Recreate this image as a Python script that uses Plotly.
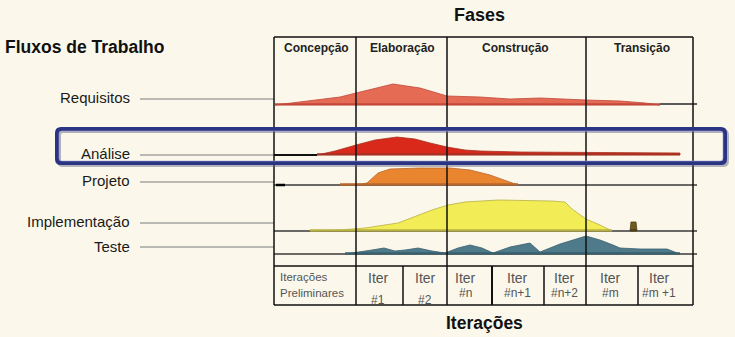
import plotly.graph_objects as go

# ---------------- data ----------------
title_top = "Fases"
title_left = "Fluxos de Trabalho"
title_bottom = "Iterações"
phases = ["Concepção", "Elaboração", "Construção", "Transição"]
workflows = ["Requisitos", "Análise", "Projeto", "Implementação", "Teste"]
prelim_label = ["Iterações", "Preliminares"]
iter_top = ["Iter", "Iter", "Iter", "Iter", "Iter", "Iter", "Iter"]
iter_bottom = ["#1", "#2", "#n", "#n+1", "#n+2", "#m", "#m +1"]

# effort profiles: time position (t) and effort height (h) for each workflow
req_t = [275, 300, 320, 340, 356, 375, 393, 420, 447, 480, 510, 540, 560, 586, 620, 645, 660]
req_h = [0, 3, 5, 8, 12, 17, 21, 17, 9, 8, 6, 7, 6, 5, 4, 2, 0]
ana_t = [317, 335, 356, 375, 397, 415, 430, 447, 465, 480, 520, 586, 640, 680]
ana_h = [0, 4, 10, 15, 18, 16, 12, 8, 5, 4, 3, 2.5, 2, 2]
proj_t = [340, 360, 367, 378, 390, 420, 450, 470, 490, 505, 518]
proj_h = [0, 0.8, 2, 12, 16, 17, 17, 15, 10, 5, 0]
impl_t = [310, 340, 365, 398, 432, 448, 465, 498, 552, 565, 572, 580, 586, 600, 612]
impl_h = [0, 1, 3, 8, 21, 26, 29, 31, 30, 29, 22, 16, 12, 6, 0]
test_t = [345, 360, 372, 384, 395, 405, 418, 432, 445, 458, 470, 482, 493, 510, 530, 540, 560, 586, 600, 613, 620, 640, 667, 680]
test_h = [0, 2, 4, 6, 3, 4, 6, 3, 1, 6, 9, 6, 1, 7, 11, 2, 10, 18, 14, 9, 6, 5, 5, 0]
blip_t = [630, 631, 636, 637]
blip_h = [0, 9, 9, 0]

# ---------------- layout constants ----------------
W, H = 735, 337
BG = "#FBF8EB"
FRAME_L, FRAME_R, FRAME_T = 274, 693, 37
PHASE_X = [274, 356, 447, 586, 693]
ITER_X = [274, 356, 403, 447, 492, 544, 586, 638, 693]
ITER_T, ITER_B = 266, 305
BASE = [105, 155, 185, 231, 254]
LABEL_Y = [97, 153, 180, 221, 246]
CONN_Y = [99, 155, 182, 223, 247]
FONT = "Liberation Sans, Arial, sans-serif"

fig = go.Figure()


def hump(t, h, base, fill, edge):
    xs = list(t) + list(reversed(t))
    ys = [base - v for v in h] + [base] * len(t)
    fig.add_trace(go.Scatter(x=xs, y=ys, mode="lines", fill="toself",
                             fillcolor=fill, line=dict(color=edge, width=0.8),
                             hoverinfo="skip", showlegend=False))
    fig.add_trace(go.Scatter(x=[t[0], t[-1]], y=[base - 0.8, base - 0.8], mode="lines",
                             line=dict(color=edge, width=2),
                             hoverinfo="skip", showlegend=False))


shapes = []


def line(x0, y0, x1, y1, color="#111", width=1.5, layer="above"):
    shapes.append(dict(type="line", x0=x0, y0=y0, x1=x1, y1=y1, xref="x", yref="y",
                       line=dict(color=color, width=width), layer=layer))


# horizontal grid lines (below humps)
for y in [BASE[2], BASE[3], BASE[4]]:
    line(FRAME_L, y, 697, y, color="#3a3a3a", width=1.6, layer="below")
line(660, BASE[0] - 1, 697, BASE[0] - 1, color="#5a5a5a", width=2, layer="below")
line(FRAME_L, BASE[1], ana_t[0], BASE[1], color="#111", width=1.8, layer="below")
line(FRAME_L + 2, BASE[2], 285, BASE[2], color="#000", width=2.5, layer="below")

# humps
hump(req_t, req_h, BASE[0], "#E66B55", "#C2483A")
hump(ana_t, ana_h, BASE[1], "#D8291B", "#A83222")
hump(proj_t, proj_h, BASE[2], "#EA852F", "#B8662A")
hump(impl_t, impl_h, BASE[3], "#F2EC57", "#B8B040")
hump(blip_t, blip_h, BASE[3], "#6E5C22", "#4E4018")
hump(test_t, test_h, BASE[4], "#4E7A8A", "#39606E")

# frame
line(FRAME_L, FRAME_T, FRAME_R, FRAME_T)
for x in PHASE_X:
    line(x, FRAME_T, x, ITER_B)
line(FRAME_L, ITER_T, FRAME_R, ITER_T)
line(FRAME_L, ITER_B, FRAME_R, ITER_B)
for x in ITER_X[1:-1]:
    if x not in PHASE_X:
        line(x, ITER_T, x, ITER_B, width=2 if x == 492 else 1.5)

# connector lines from labels
for y in CONN_Y:
    line(140, y, FRAME_L, y, color="#7a7a7a", width=1.2, layer="below")

# highlight rectangle (shadow + border)
def rrect(x0, y0, x1, y1, r):
    return (f"M{x0+r},{y0} L{x1-r},{y0} Q{x1},{y0} {x1},{y0+r} L{x1},{y1-r} "
            f"Q{x1},{y1} {x1-r},{y1} L{x0+r},{y1} Q{x0},{y1} {x0},{y1-r} "
            f"L{x0},{y0+r} Q{x0},{y0} {x0+r},{y0} Z")

shapes.append(dict(type="path", path=rrect(59, 131, 727, 165, 4), xref="x", yref="y",
                   line=dict(color="rgba(90,95,130,0.45)", width=4), layer="above"))
shapes.append(dict(type="path", path=rrect(57, 129, 725, 163, 4), xref="x", yref="y",
                   line=dict(color="#2B3482", width=4), layer="above"))
shapes.append(dict(type="path", path=rrect(59, 131, 723, 161, 3), xref="x", yref="y",
                   line=dict(color="rgba(150,160,210,0.6)", width=1), layer="above"))

annotations = []


def text(x, y, s, size, bold=False, color="#111", xanchor="center"):
    annotations.append(dict(x=x, y=y, xref="x", yref="y", text=f"<b>{s}</b>" if bold else s,
                            showarrow=False, xanchor=xanchor, yanchor="middle",
                            font=dict(family=FONT, size=size, color=color)))


text(479, 15, title_top, 18, bold=True)
text(3, 47, title_left, 17.5, bold=True, xanchor="left")
text(484, 323, title_bottom, 17.5, bold=True)

phase_cx = [316, 402, 515, 642]
for cx, p in zip(phase_cx, phases):
    text(cx, 48, p, 12, bold=True, color="#222")

for y, w in zip(LABEL_Y, workflows):
    text(132, y, w, 15, xanchor="right", color="#1a1a1a")

text(278, 277, prelim_label[0], 11.5, color="#555", xanchor="left")
text(278, 293, prelim_label[1], 11.5, color="#555", xanchor="left")

iter_cx = [378, 425, 465, 517, 564, 610, 659]
iter_by = [300, 300, 293, 293, 293, 293, 293]
for cx, by, a, b in zip(iter_cx, iter_by, iter_top, iter_bottom):
    text(cx, 278, a, 14, color="#555")
    text(cx, by, b, 12, color="#555")

fig.update_layout(
    width=W, height=H, margin=dict(l=0, r=0, t=0, b=0),
    paper_bgcolor=BG, plot_bgcolor=BG,
    xaxis=dict(range=[0, W], visible=False, fixedrange=True, domain=[0, 1]),
    yaxis=dict(range=[H, 0], visible=False, fixedrange=True, domain=[0, 1]),
    shapes=shapes, annotations=annotations, showlegend=False,
)

fig.write_html("out.html")
